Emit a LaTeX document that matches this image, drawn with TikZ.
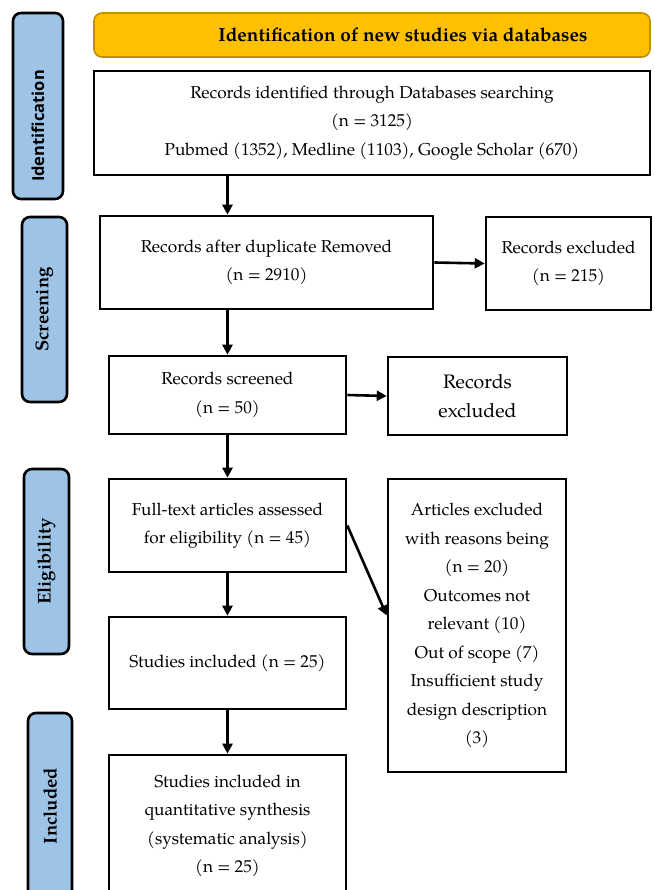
\documentclass[tikz,border=0pt]{standalone}
\usepackage{fontspec}
\setmainfont{TeX Gyre Pagella}
\newfontfamily\phasesans{Open Sans}
\usepackage{tikz}
\usetikzlibrary{arrows.meta}

\definecolor{phaseblue}{HTML}{9DC3E6}
\definecolor{titlegold}{HTML}{FFC000}
\definecolor{titleedge}{HTML}{C09000}

\begin{document}
\begin{tikzpicture}[x=1pt, y=-1pt,
    box/.style={draw, line width=2.6pt, align=center, inner sep=0pt,
        font=\fontsize{17.2}{28.5}\selectfont},
    phase/.style={draw, line width=2.6pt, rounded corners=8pt, fill=phaseblue,
        rotate=90, inner sep=0pt, font=\fontsize{18.5}{20}\selectfont\bfseries},
    arr/.style={line width=2.6pt, -{Triangle[length=10pt,width=10pt]}}]
% Page
\clip (0,0) rectangle (654,890);

% Phase labels
\node[phase, minimum width=186, minimum height=50] (pid) at (38,106)
    {\phasesans\fontsize{16.5}{18}\selectfont Identification\hspace*{40pt}};
\node[phase, minimum width=185, minimum height=45] (pscr) at (44.5,309.5) {Screening};
\node[phase, minimum width=185, minimum height=45] (pelig) at (46.5,561.5) {Eligibility};
\node[phase, minimum width=186, minimum height=44] (pincl) at (50,806) {Included};

% Title
\node[draw=titleedge, line width=1.6pt, fill=titlegold, rounded corners=8pt,
    minimum width=556, minimum height=44, inner sep=0pt,
    font=\fontsize{19}{20}\selectfont\bfseries] (title) at (372,35)
    {\hspace*{62pt}Identification of new studies via databases};

% Flow boxes
\node[box, minimum width=556, minimum height=104] (ident) at (372,123)
    {Records identified through Databases searching\\(n = 3125)\\Pubmed (1352), Medline (1103), Google Scholar (670)};
\node[box, minimum width=333, minimum height=93] (dup) at (266.5,262.5)
    {Records after duplicate Removed\\(n = 2910)};
\node[box, minimum width=165, minimum height=93] (excla) at (568.5,263.5)
    {Records excluded\\(n = 215)};
\node[box, minimum width=237, minimum height=78] (screen) at (227.5,395)
    {Records screened\\(n = 50)};
\node[box, minimum width=179, minimum height=78, font=\fontsize{19.5}{28.5}\selectfont] (exclb) at (477.5,396)
    {Records\\excluded};
\node[box, minimum width=237, minimum height=93] (full) at (227.5,525.5)
    {Full-text articles assessed\\for eligibility (n = 45)};
\node[box, minimum width=237, minimum height=92] (incl) at (227.5,663)
    {Studies included (n = 25)};
\node[box, minimum width=237, minimum height=142] (synth) at (227.5,826)
    {Studies included in\\quantitative synthesis\\(systematic analysis)\\(n = 25)};
\node[box, minimum width=178, minimum height=293] (art) at (477,625.5)
    {Articles excluded\\with reasons being\\(n = 20)\\Outcomes not\\relevant (10)\\Out of scope (7)\\Insufficient study\\design description\\(3)};

% Arrows
\draw[arr] (ident.south -| screen.north) -- (dup.north -| screen.north);
\draw[arr] (dup.south -| screen.north) -- (screen.north);
\draw[arr] (dup.east) -- (excla.west);
\draw[arr] (screen.east) -- (exclb.west);
\draw[arr] (screen.south) -- (full.north);
\draw[arr] (full.south) -- (incl.north);
\draw[arr] (incl.south) -- (synth.north);
\draw[arr] (full.east) -- ([yshift=10pt]art.west);
\end{tikzpicture}
\end{document}
